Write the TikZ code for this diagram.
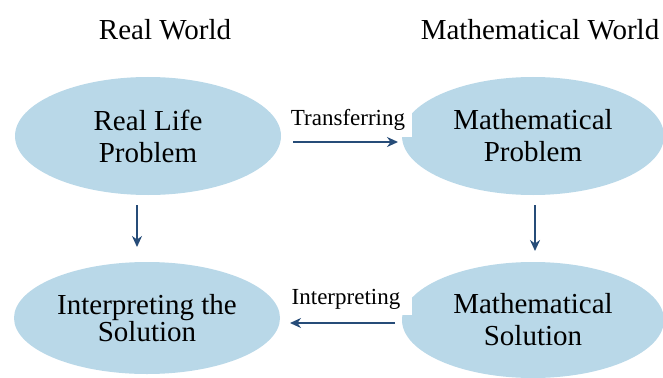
\documentclass[tikz,border=0pt]{standalone}
\usepackage{fontspec}
\setmainfont{Liberation Serif}
\usetikzlibrary{shapes.geometric,arrows.meta}
\definecolor{bubble}{RGB}{185,216,232}
\definecolor{arrowblue}{RGB}{38,76,120}
\begin{document}
\begin{tikzpicture}[x=1pt,y=-1pt,
  bub/.style={ellipse,fill=bubble,inner sep=0pt,align=center,
    font=\fontsize{29}{32}\selectfont},
  lab/.style={fill=white,inner sep=0pt,font=\fontsize{23}{26}\selectfont},
  title/.style={font=\fontsize{29}{32}\selectfont},
  arr/.style={draw=arrowblue,line width=2pt,-{Stealth[length=11pt,width=10pt]}}]
\useasboundingbox (0,0) rectangle (663,377);
\node[title] (rw) at (165,30) {Real World};
\node[title] (mw) at (540,30) {Mathematical World};
\node[bub,minimum width=266,minimum height=118] (rlp) at (148,136) {Real Life\\Problem};
\node[bub,minimum width=262,minimum height=118] (mp) at (533,136) {Mathematical\\Problem};
\node[bub,minimum width=266,minimum height=112,font=\fontsize{29}{24}\selectfont] (its) at (147,318) {Interpreting the\\Solution};
\node[bub,minimum width=262,minimum height=116] (ms) at (533,320) {Mathematical\\Solution};
% white label boxes
\node[lab,minimum width=127,minimum height=34] (tr) at (348,120) {Transferring};
\node[lab,minimum width=132,minimum height=32] (ip) at (346,299) {Interpreting};
% connectors
\coordinate (t1) at (293,142);
\coordinate (t2) at (398,142);
\coordinate (d1) at (137,205);
\coordinate (d2) at (137,247);
\coordinate (e1) at (535,205);
\coordinate (e2) at (535,251);
\coordinate (i1) at (395,323);
\coordinate (i2) at (290,323);
\draw[arr] (t1) -- (t2);
\draw[arr] (d1) -- (d2);
\draw[arr] (e1) -- (e2);
\draw[arr] (i1) -- (i2);
\end{tikzpicture}
\end{document}
